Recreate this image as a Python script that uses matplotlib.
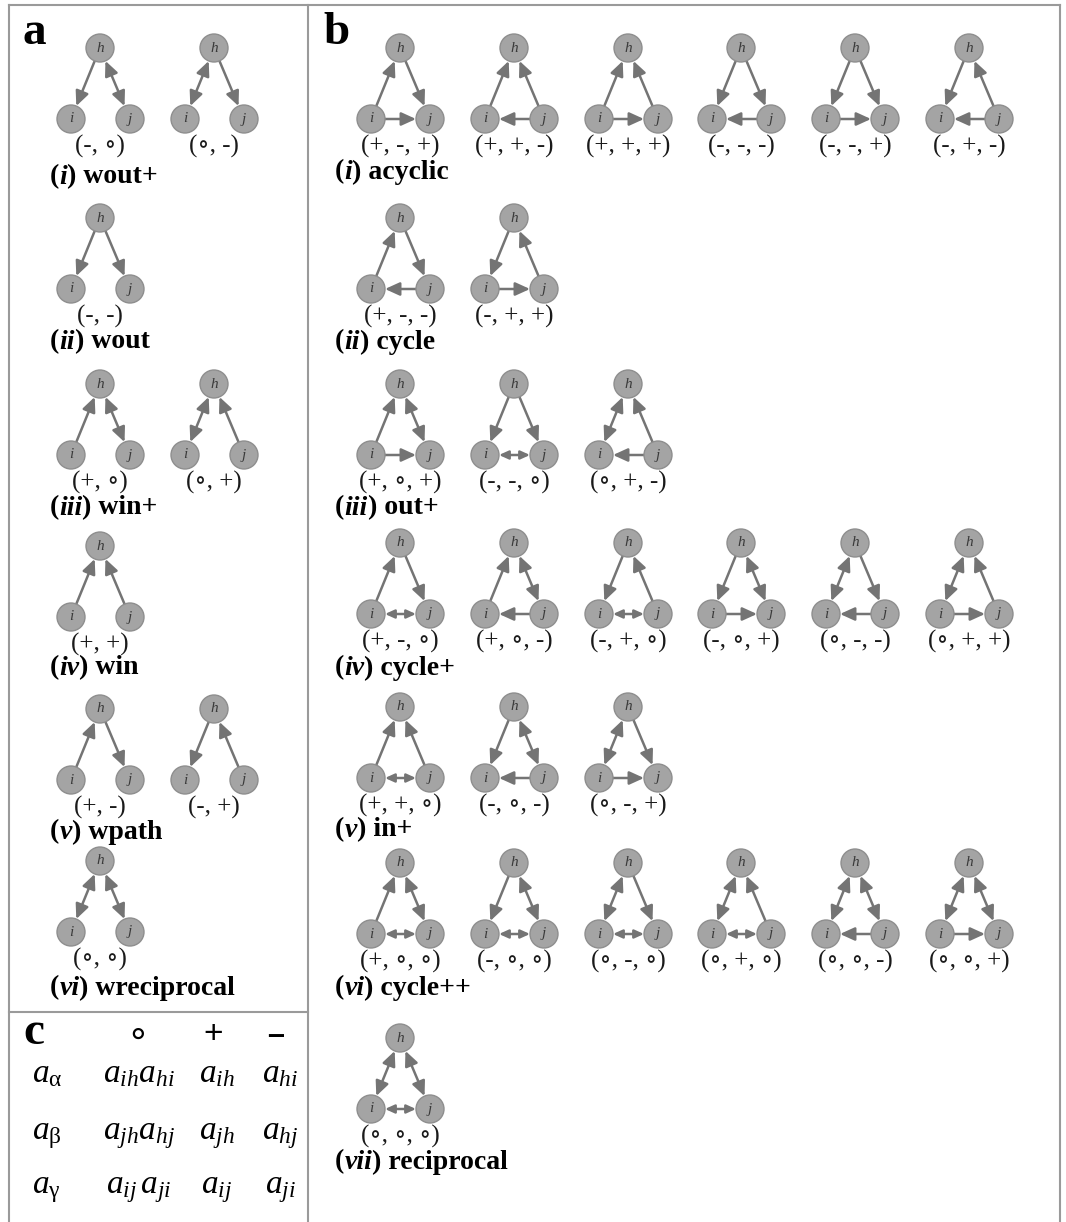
import numpy as np
import matplotlib.pyplot as plt
from matplotlib.patches import Circle, FancyArrowPatch

plt.rcParams['mathtext.fontset'] = 'custom'
plt.rcParams['mathtext.rm'] = 'Liberation Serif'
plt.rcParams['mathtext.it'] = 'Liberation Serif:italic'
plt.rcParams['mathtext.bf'] = 'Liberation Serif:bold'

SERIF = ['Liberation Serif', 'DejaVu Serif']

# ---- data: motif codes (alpha = i-h, beta = j-h, gamma = i-j) ----
a_numerals = ['i', 'ii', 'iii', 'iv', 'v', 'vi']
a_names = ['wout+', 'wout', 'win+', 'win', 'wpath', 'wreciprocal']
a_motifs = [['-o', 'o-'], ['--'], ['+o', 'o+'], ['++'], ['+-', '-+'], ['oo']]

b_numerals = ['i', 'ii', 'iii', 'iv', 'v', 'vi', 'vii']
b_names = ['acyclic', 'cycle', 'out+', 'cycle+', 'in+', 'cycle++', 'reciprocal']
b_motifs = [
    ['+-+', '++-', '+++', '---', '--+', '-+-'],
    ['+--', '-++'],
    ['+o+', '--o', 'o+-'],
    ['+-o', '+o-', '-+o', '-o+', 'o--', 'o++'],
    ['++o', '-o-', 'o-+'],
    ['+oo', '-oo', 'o-o', 'o+o', 'oo-', 'oo+'],
    ['ooo'],
]

c_headers = ['\u2218', '+', '\u2013']
c_rows = [r'$a_{\mathrm{\alpha}}$', r'$a_{\mathrm{\beta}}$', r'$a_{\mathrm{\gamma}}$']
c_cells = [
    [r'$a_{ih}a_{hi}$', r'$a_{ih}$', r'$a_{hi}$'],
    [r'$a_{jh}a_{hj}$', r'$a_{jh}$', r'$a_{hj}$'],
    [r'$a_{ij}\,a_{ji}$', r'$a_{ij}$', r'$a_{ji}$'],
]
SYM = {'+': '+', '-': '-', 'o': '\u2218'}

# ---- layout (pixels) ----
a_cols = [100, 214]
a_rows_h = [48, 218, 384, 546, 709, 861]
a_rows_title = [177, 342, 508, 668, 832, 988]
b_cols = [400, 514, 628, 741, 855, 969]
b_rows_h = [48, 218, 384, 543, 707, 863, 1038]
b_rows_title = [172, 342, 508, 668, 830, 988, 1162]

NODE_R = 14
NODE_FC = '#a4a4a4'
NODE_EC = '#8e8e8e'
EDGE_C = '#747474'

fig = plt.figure(figsize=(10.66, 12.22), dpi=100)
ax = fig.add_axes([0, 0, 1, 1])
ax.set_xlim(0, 1066)
ax.set_ylim(1222, 0)
ax.axis('off')


def draw_edge(p, q, style, scale=16):
    p, q = np.array(p, float), np.array(q, float)
    d = (q - p) / np.linalg.norm(q - p)
    a = p + d * NODE_R
    b = q - d * NODE_R
    ax.add_patch(FancyArrowPatch(a, b, arrowstyle=style + ',head_length=0.55,head_width=0.25',
                                 mutation_scale=scale, color=EDGE_C, lw=1.8,
                                 shrinkA=0, shrinkB=0, zorder=2))


def draw_motif(x, y, code):
    pos = {'h': (x, y), 'i': (x - 29, y + 71), 'j': (x + 30, y + 71)}
    pairs = [('i', 'h'), ('j', 'h'), ('i', 'j')]
    for k, ((u, v), s) in enumerate(zip(pairs, code)):
        if s == '+':
            draw_edge(pos[u], pos[v], '-|>')
        elif s == '-':
            draw_edge(pos[v], pos[u], '-|>')
        else:
            # short horizontal edge gets smaller heads
            draw_edge(pos[u], pos[v], '<|-|>', scale=10 if k == 2 else 16)
    for n, (px, py) in pos.items():
        ax.add_patch(Circle((px, py), NODE_R, fc=NODE_FC, ec=NODE_EC, lw=1, zorder=3))
        ax.text(px, py, n, ha='center', va='center', fontsize=11, color='#3a3a3a',
                family=SERIF, fontstyle='italic', zorder=4)
    label = '(' + ', '.join(SYM[c] for c in code) + ')'
    ax.text(x, y + 98, label, ha='center', va='center', fontsize=18,
            family=SERIF, color='#1a1a1a')


def draw_title(x, y, numeral, name):
    t = ax.text(x, y, '(', fontsize=20, fontweight='bold', family=SERIF,
                va='center', ha='left')
    t = ax.annotate(numeral, xy=(1, 0), xycoords=t, va='bottom', fontsize=20,
                    fontweight='bold', fontstyle='italic', family=SERIF)
    ax.annotate(') ' + name, xy=(1, 0), xycoords=t, va='bottom', fontsize=20,
                fontweight='bold', family=SERIF)


# panel a
for r, motifs in enumerate(a_motifs):
    for c, code in enumerate(motifs):
        draw_motif(a_cols[c], a_rows_h[r], code)
    draw_title(50, a_rows_title[r], a_numerals[r], a_names[r])

# panel b
for r, motifs in enumerate(b_motifs):
    for c, code in enumerate(motifs):
        draw_motif(b_cols[c], b_rows_h[r], code)
    draw_title(335, b_rows_title[r], b_numerals[r], b_names[r])

# panel c table
hdr_x = [138, 213, 276]
ax.text(hdr_x[0], 1035, c_headers[0], ha='center', va='center', fontsize=26,
        family='DejaVu Sans')
ax.text(hdr_x[1], 1035, c_headers[1], ha='center', va='center', fontsize=24,
        family='Liberation Sans')
ax.text(hdr_x[2], 1036, c_headers[2], ha='center', va='center', fontsize=22,
        family='Liberation Sans', fontweight='bold')
for r, lab in enumerate(c_rows):
    yb = [1082, 1139, 1193][r]
    ax.text(32, yb, lab, ha='left', va='baseline', fontsize=24)
    for k, cell in enumerate(c_cells[r]):
        ax.text([139, 217, 280][k], yb, cell, ha='center', va='baseline', fontsize=24)

# panel letters
for lab, (px, py) in zip(['a', 'b', 'c'], [(34, 33), (336, 33), (34, 1033)]):
    ax.text(px, py, lab, ha='center', va='center', fontsize=34, fontweight='bold', family=SERIF)

# frame lines
LINE_C = '#9a9a9a'
ax.plot([9, 1060], [5, 5], color=LINE_C, lw=1.5)
ax.plot([9, 9], [5, 1222], color=LINE_C, lw=1.5)
ax.plot([1060, 1060], [5, 1222], color=LINE_C, lw=1.5)
ax.plot([308, 308], [5, 1222], color=LINE_C, lw=1.5)
ax.plot([9, 308], [1012, 1012], color=LINE_C, lw=1.5)

fig.savefig('out.png', dpi=100)
